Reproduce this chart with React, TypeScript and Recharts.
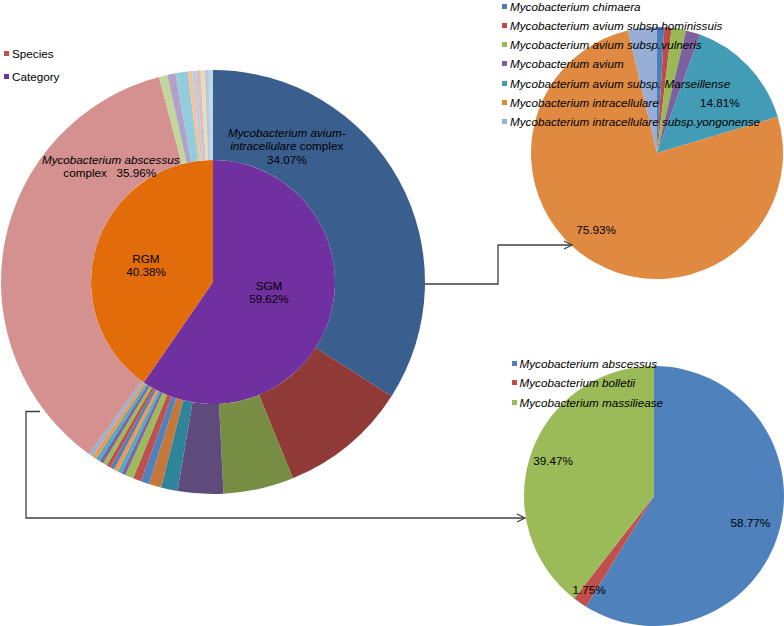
import { PieChart, Pie, Cell } from "recharts";

const categoryNames = ["SGM", "RGM"];
const categoryCounts = [189, 128];
const categoryColors = ["#7030A0", "#E36C0A"];

const speciesNames = [
  "Mycobacterium avium-intracellulare complex",
  "SGM species 2", "SGM species 3", "SGM species 4", "SGM species 5", "SGM species 6",
  "SGM species 7", "SGM species 8", "SGM species 9", "SGM species 10", "SGM species 11",
  "SGM species 12", "SGM species 13", "SGM species 14", "SGM species 15", "SGM species 16",
  "SGM species 17", "SGM species 18",
  "RGM species 1",
  "Mycobacterium abscessus complex",
  "RGM species 3", "RGM species 4", "RGM species 5", "RGM species 6", "RGM species 7",
  "RGM species 8", "RGM species 9", "RGM species 10", "RGM species 11",
];
const speciesCounts = [
  108, 31, 17, 11, 4, 3, 2, 2, 2, 1, 1, 1, 1, 1, 1, 1, 1, 1,
  1, 114, 2, 2, 3, 1, 1, 1, 1, 1, 1,
];
const speciesColors = [
  "#3A5F8F", "#8F3A37", "#768D43", "#5F4B7B", "#30849A", "#C5773A",
  "#4F81BD", "#C0504D", "#9BBB59", "#8064A2", "#4BACC6", "#F79646",
  "#4F81BD", "#C0504D", "#9BBB59", "#8064A2", "#4BACC6", "#F79646",
  "#95B3D7", "#D4918F", "#C3D69B", "#B3A2C7", "#93CDDD", "#FAC090",
  "#B9CDE5", "#E6B9B8", "#D7E4BD", "#CCC1DA", "#B7DEE8",
];

const macNames = [
  "Mycobacterium chimaera",
  "Mycobacterium avium subsp.hominissuis",
  "Mycobacterium avium subsp.vulneris",
  "Mycobacterium avium",
  "Mycobacterium avium subsp. Marseillense",
  "Mycobacterium intracellulare",
  "Mycobacterium intracellulare subsp.yongonense",
];
const macCounts = [1, 1, 2, 2, 16, 82, 4];
const macColors = ["#4A7EBB", "#BE4B48", "#98B954", "#7D60A0", "#439CB5", "#DF8A40", "#97AED6"];

const abscNames = ["Mycobacterium abscessus", "Mycobacterium bolletii", "Mycobacterium massiliease"];
const abscCounts = [67, 2, 45];
const abscColors = ["#4F81BD", "#C0504D", "#9BBB59"];

const seriesNames = ["Species", "Category"];
const seriesColors = ["#C0504D", "#7030A0"];

const FONT = "'Liberation Sans', Arial, sans-serif";
const FS = 11.7;
const RAD = Math.PI / 180;

const toRows = (names: string[], counts: number[]) =>
  names.map((name, i) => ({ name, value: counts[i] }));
const sum = (a: number[]) => a.reduce((s, v) => s + v, 0);
const pct = (v: number, a: number[]) => ((v / sum(a)) * 100).toFixed(2) + "%";

// label placement relative to slice mid angle (clockwise from 12 o'clock)
function spot(p: any, dAngle: number, r: number) {
  const clock = 90 - p.midAngle + dAngle;
  return [p.cx + r * Math.sin(clock * RAD), p.cy - r * Math.cos(clock * RAD)];
}

const txt = { fontFamily: FONT, fontSize: FS, fill: "#000" } as const;

function categoryLabel(p: any) {
  const tweak = [[-6.3, 57], [-3.6, 69]][p.index];
  const [x, y] = spot(p, tweak[0], tweak[1]);
  return (
    <text x={x} y={y} textAnchor="middle" style={txt}>
      <tspan x={x} dy={-3}>{categoryNames[p.index]}</tspan>
      <tspan x={x} dy={13.5}>{pct(categoryCounts[p.index], categoryCounts)}</tspan>
    </text>
  );
}

function speciesLabel(p: any) {
  if (p.index === 0) {
    const [x, y] = spot(p, -32.9, 155);
    return (
      <text x={x} y={y} textAnchor="middle" style={txt}>
        <tspan x={x} dy={-9} fontStyle="italic">Mycobacterium avium-</tspan>
        <tspan x={x} dy={13.5}>
          <tspan fontStyle="italic">intracellulare</tspan> complex
        </tspan>
        <tspan x={x} dy={13.5}>{pct(speciesCounts[0], speciesCounts)}</tspan>
      </text>
    );
  }
  if (p.index === 19) {
    const [x, y] = spot(p, 37.9, 154);
    return (
      <text x={x} y={y} textAnchor="middle" style={{ ...txt, whiteSpace: "pre" }}>
        <tspan x={x} dy={-3} fontStyle="italic">Mycobacterium abscessus</tspan>
        <tspan x={x - 1} dy={13.5}>{"complex   " + pct(speciesCounts[19], speciesCounts)}</tspan>
      </text>
    );
  }
  return null;
}

function macLabel(p: any) {
  const tweak: Record<number, number[]> = { 4: [4.7, 80.5], 5: [8.4, 98] };
  const t = tweak[p.index];
  if (!t) return null;
  const [x, y] = spot(p, t[0], t[1]);
  return (
    <text x={x} y={y + 4} textAnchor="middle" style={txt}>
      {pct(macCounts[p.index], macCounts)}
    </text>
  );
}

function abscLabel(p: any) {
  const r = [100, 114, 106.6][p.index];
  const [x, y] = spot(p, 0, r);
  return (
    <text x={x} y={y + 4} textAnchor="middle" style={txt}>
      {pct(abscCounts[p.index], abscCounts)}
    </text>
  );
}

function Legend({ left, top, gap, names, colors, italic }: any) {
  return (
    <>
      {names.map((n: string, i: number) => (
        <div
          key={n}
          style={{
            position: "absolute",
            left,
            top: top + i * gap - 7,
            height: 14,
            display: "flex",
            alignItems: "center",
            whiteSpace: "nowrap",
            fontFamily: FONT,
            fontSize: FS,
            fontStyle: italic ? "italic" : "normal",
            color: "#000",
          }}
        >
          <span style={{ width: 5, height: 5, background: colors[i], marginRight: 3 }} />
          {n}
        </div>
      ))}
    </>
  );
}

const noMargin = { top: 0, right: 0, bottom: 0, left: 0 };

export default function App() {
  const arrow = "#404040";
  return (
    <div style={{ position: "relative", width: 784, height: 626, background: "#fff", overflow: "hidden" }}>
      <style>{"body{margin:0}"}</style>
      <div style={{ position: "absolute", left: 0, top: 0 }}>
        <PieChart width={784} height={626} margin={noMargin}>
          <Pie
            data={toRows(categoryNames, categoryCounts)}
            dataKey="value"
            cx={213}
            cy={282}
            outerRadius={122}
            startAngle={90}
            endAngle={-270}
            stroke="none"
            label={categoryLabel}
            labelLine={false}
            isAnimationActive={false}
          >
            {categoryColors.map((c) => (
              <Cell key={c} fill={c} />
            ))}
          </Pie>
          <Pie
            data={toRows(speciesNames, speciesCounts)}
            dataKey="value"
            cx={213}
            cy={282}
            innerRadius={122}
            outerRadius={212}
            startAngle={90}
            endAngle={-270}
            stroke="none"
            label={speciesLabel}
            labelLine={false}
            isAnimationActive={false}
          >
            {speciesColors.map((c, i) => (
              <Cell key={i} fill={c} />
            ))}
          </Pie>
          <Pie
            data={toRows(macNames, macCounts)}
            dataKey="value"
            cx={657}
            cy={153}
            outerRadius={126}
            startAngle={90}
            endAngle={-270}
            stroke="none"
            label={macLabel}
            labelLine={false}
            isAnimationActive={false}
          >
            {macColors.map((c) => (
              <Cell key={c} fill={c} />
            ))}
          </Pie>
          <Pie
            data={toRows(abscNames, abscCounts)}
            dataKey="value"
            cx={654}
            cy={496}
            outerRadius={130}
            startAngle={90}
            endAngle={-270}
            stroke="none"
            label={abscLabel}
            labelLine={false}
            isAnimationActive={false}
          >
            {abscColors.map((c) => (
              <Cell key={c} fill={c} />
            ))}
          </Pie>
        </PieChart>
      </div>

      <svg width={784} height={626} style={{ position: "absolute", left: 0, top: 0, pointerEvents: "none" }}>
        <polyline points="425,284 498,284 498,245 572,245" fill="none" stroke={arrow} strokeWidth={1.3} />
        <polyline points="564,241 572,245 564,249" fill="none" stroke={arrow} strokeWidth={1.3} />
        <polyline points="40,411.5 26,411.5 26,518 525,518" fill="none" stroke={arrow} strokeWidth={1.3} />
        <polyline points="517,514 525,518 517,522" fill="none" stroke={arrow} strokeWidth={1.3} />
      </svg>

      <Legend left={4} top={53} gap={23.5} names={seriesNames} colors={seriesColors} />
      <Legend left={502} top={6} gap={19.3} names={macNames} colors={macColors} italic />
      <Legend left={511.5} top={363} gap={19.7} names={abscNames} colors={abscColors} italic />
    </div>
  );
}
